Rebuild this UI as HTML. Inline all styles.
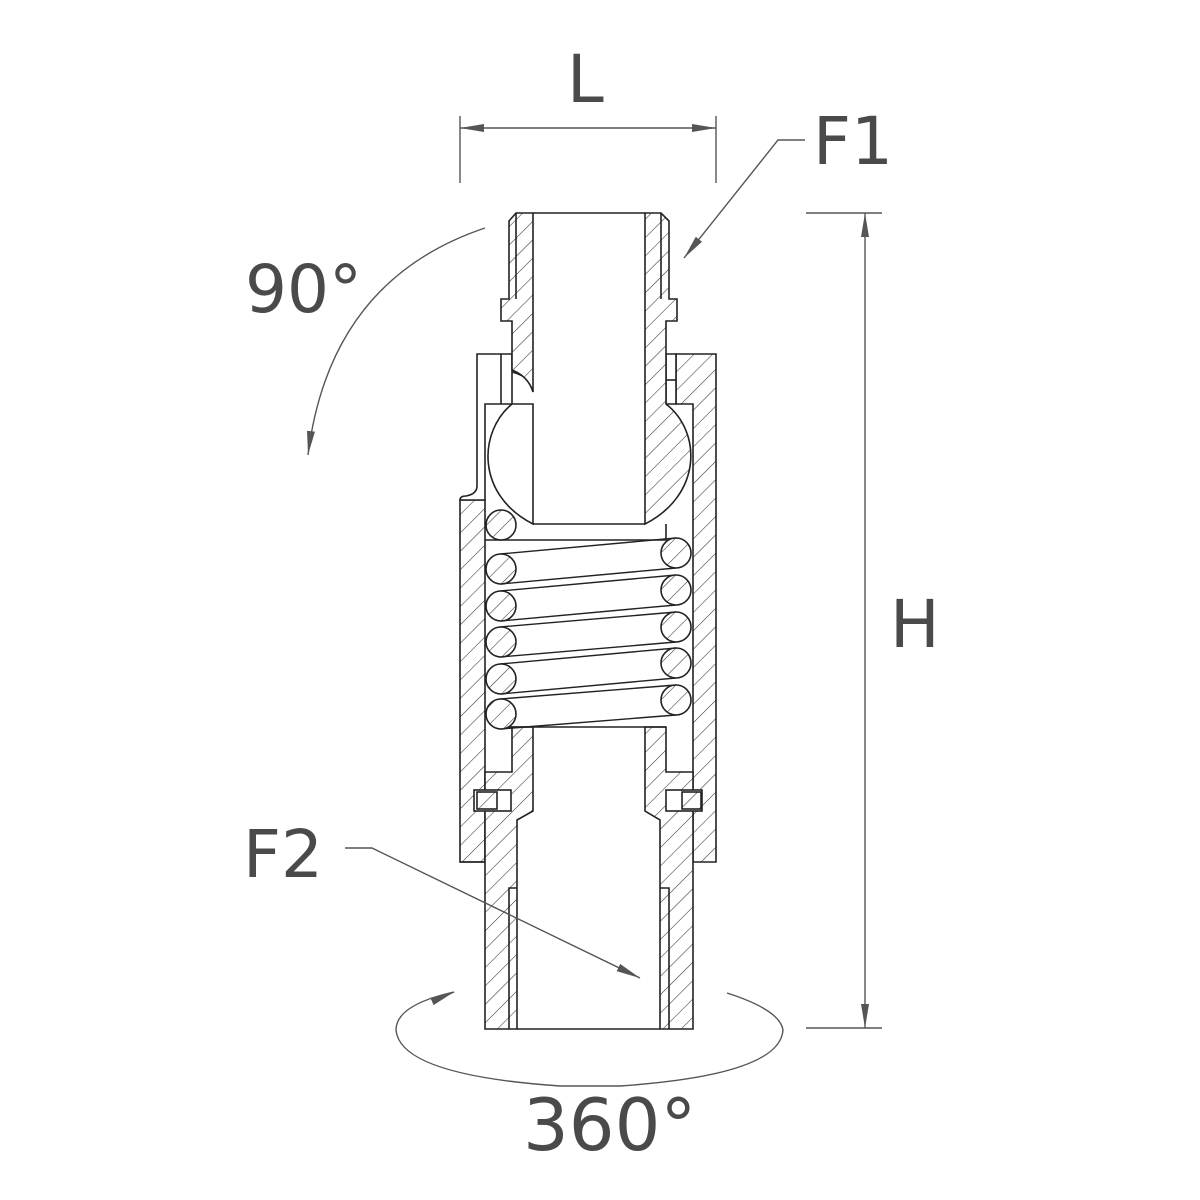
<!DOCTYPE html>
<html><head><meta charset="utf-8"><style>
html,body{margin:0;padding:0;background:#fff;}
svg{display:block;}
text{font-family:"DejaVu Sans","Liberation Sans",sans-serif;fill:#4a4a4a;}
</style></head><body>
<svg width="1200" height="1200" viewBox="0 0 1200 1200" xmlns="http://www.w3.org/2000/svg">
<defs>
<pattern id="h" patternUnits="userSpaceOnUse" width="13" height="13" patternTransform="rotate(45)">
<rect width="13" height="13" fill="#fff"/>
<line x1="0" y1="0" x2="0" y2="13" stroke="#333" stroke-width="1.1"/>
</pattern>
<marker id="a" viewBox="0 0 24 8" refX="24" refY="4" markerWidth="24" markerHeight="8" markerUnits="userSpaceOnUse" orient="auto">
<path d="M0,0 L24,4 L0,8 Z" fill="#555"/>
</marker>
</defs>
<rect width="1200" height="1200" fill="#fff"/>

<g stroke="#222" stroke-width="1.6" fill="url(#h)" stroke-linejoin="miter">
<path d="M676,354 L716,354 L716,862 L693,862 L693,404 L676,404 Z"/>
<path d="M460,500 L485,500 L485,862 L460,862 Z"/>
<path d="M477,354 L512,354 L512,404 L485,404 L485,500 L460,500 Q460,496 466,496 Q477,494 477,486 Z" fill="#fff"/>
<line x1="501" y1="354" x2="501" y2="404"/>
<path d="M666,354 L676,354 L676,404 L666,404 Z" fill="#fff"/>
<line x1="666" y1="380" x2="676" y2="380"/>
<path d="M512,404 C478,432 476,495 533,524 L533,404 Z" fill="#fff"/>
<path d="M512,372 Q530,376 533,392" fill="none"/>
<path d="M516,213 L533,213 L533,392 Q528,376 512,370 L512,321 L501,321 L501,299 L509,299 L509,221 Z"/>
<line x1="516" y1="213" x2="516" y2="299"/>
<path d="M645,213 L661,213 L669,221 L669,299 L677,299 L677,321 L666,321 L666,404 C702,432 702,495 645,524 Z"/>
<line x1="661" y1="213" x2="661" y2="299"/>
<line x1="533" y1="213" x2="645" y2="213"/>
<line x1="533" y1="524" x2="645" y2="524"/>
<path d="M485,540 L666,540 L666,524" fill="none"/>
<path d="M512,727 L533,727 L533,811 L517,820 L517,1029 L485,1029 L485,772 L512,772 Z"/>
<path d="M645,727 L666,727 L666,772 L693,772 L693,1029 L660,1029 L660,820 L645,811 Z"/>
<line x1="517" y1="1029" x2="660" y2="1029"/>
<line x1="485" y1="862" x2="460" y2="862"/>
<path d="M517,888 L509,888 L509,1029" fill="none"/>
<path d="M660,888 L669,888 L669,1029" fill="none"/>
<rect x="474" y="790" width="37" height="21" fill="#fff"/>
<rect x="477" y="792" width="20" height="17"/>
<rect x="666" y="790" width="36" height="21" fill="#fff"/>
<rect x="682" y="792" width="19" height="17"/>
<g fill="none" stroke-width="1.4">
<line x1="500" y1="554" x2="676" y2="538"/><line x1="500" y1="584" x2="676" y2="568"/>
<line x1="500" y1="591" x2="676" y2="575"/><line x1="500" y1="621" x2="676" y2="605"/>
<line x1="500" y1="627" x2="676" y2="612"/><line x1="500" y1="657" x2="676" y2="642"/>
<line x1="500" y1="664" x2="676" y2="648"/><line x1="500" y1="694" x2="676" y2="678"/>
<line x1="500" y1="699" x2="676" y2="685"/><line x1="500" y1="729" x2="676" y2="715"/>
<line x1="500" y1="727" x2="666" y2="727"/>
</g>
<g>
<circle cx="501" cy="525" r="15"/>
<circle cx="501" cy="569" r="15"/><circle cx="501" cy="606" r="15"/><circle cx="501" cy="642" r="15"/>
<circle cx="501" cy="679" r="15"/><circle cx="501" cy="714" r="15"/>
<circle cx="676" cy="553" r="15"/><circle cx="676" cy="590" r="15"/><circle cx="676" cy="627" r="15"/>
<circle cx="676" cy="663" r="15"/><circle cx="676" cy="700" r="15"/>
</g>
</g>

<g stroke="#555" stroke-width="1.4" fill="none">
<line x1="460" y1="116" x2="460" y2="183"/>
<line x1="716" y1="116" x2="716" y2="183"/>
<line x1="588" y1="128" x2="460" y2="128" marker-end="url(#a)"/>
<line x1="588" y1="128" x2="716" y2="128" marker-end="url(#a)"/>
<polyline points="805,140 778,140 684,258" marker-end="url(#a)"/>
<line x1="806" y1="213" x2="882" y2="213"/>
<line x1="806" y1="1028" x2="882" y2="1028"/>
<line x1="865" y1="620" x2="865" y2="213" marker-end="url(#a)"/>
<line x1="865" y1="620" x2="865" y2="1028" marker-end="url(#a)"/>
<path d="M485,228 Q330,280 308,455" marker-end="url(#a)"/>
<polyline points="345,848 372,848 640,978" marker-end="url(#a)"/>
<path d="M454,992 Q396,1005 396,1030 Q400,1075 560,1086 L620,1086 Q780,1075 783,1030 Q780,1010 727,993"/>
<path d="M440,998 L454,992" marker-end="url(#a)"/>
</g>
<text x="567" y="102" font-size="66">L</text>
<text x="813" y="164" font-size="66">F1</text>
<text x="890" y="647" font-size="66">H</text>
<text x="245" y="312" font-size="66">90°</text>
<text x="243" y="877" font-size="66">F2</text>
<text x="523" y="1150" font-size="72">360°</text>
</svg>
</body></html>
